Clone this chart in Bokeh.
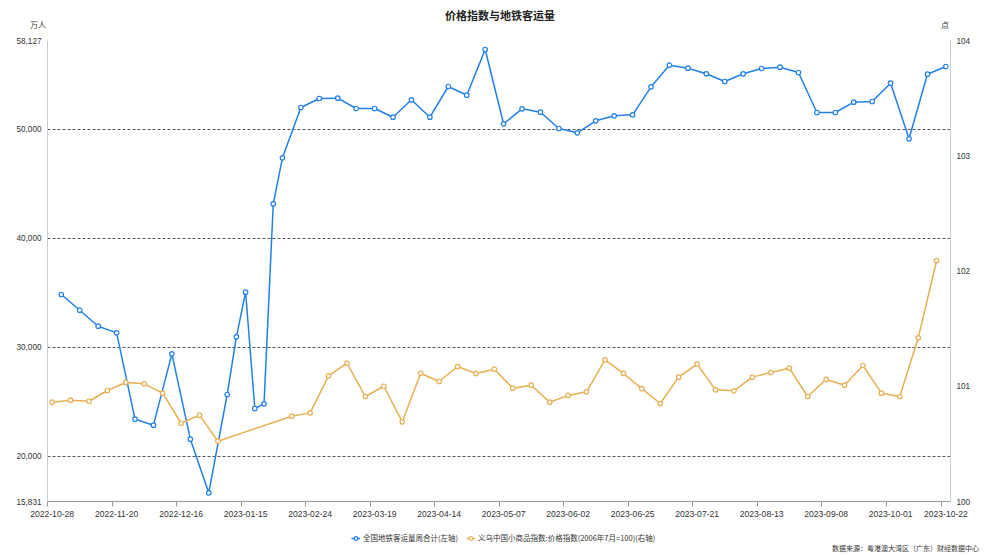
from bokeh.plotting import figure
from bokeh.layouts import column
from bokeh.models import (Range1d, LinearAxis, FixedTicker, Legend, Div,
                          LegendItem, NumeralTickFormatter)
from bokeh.embed import file_html
from bokeh.resources import INLINE

# ---------------- data ----------------
title_text = "价格指数与地铁客运量"
left_unit = "万人"
right_unit = "点"
source_text = "数据来源：粤港澳大湾区（广东）财经数据中心"
blue_name = "全国地铁客运量周合计(左轴)"
orange_name = "义乌中国小商品指数:价格指数(2006年7月=100)(右轴)"

blue_dates = [
    "2022-10-30", "2022-11-06", "2022-11-13", "2022-11-20", "2022-11-27",
    "2022-12-04", "2022-12-11", "2022-12-18", "2022-12-25",
    "2023-01-01", "2023-01-08", "2023-01-15", "2023-01-22", "2023-01-29",
    "2023-02-05", "2023-02-12", "2023-02-19", "2023-02-26",
    "2023-03-05", "2023-03-12", "2023-03-19", "2023-03-26",
    "2023-04-02", "2023-04-09", "2023-04-16", "2023-04-23", "2023-04-30",
    "2023-05-07", "2023-05-14", "2023-05-21", "2023-05-28",
    "2023-06-04", "2023-06-11", "2023-06-18", "2023-06-25",
    "2023-07-02", "2023-07-09", "2023-07-16", "2023-07-23", "2023-07-30",
    "2023-08-06", "2023-08-13", "2023-08-20", "2023-08-27",
    "2023-09-03", "2023-09-10", "2023-09-17", "2023-09-24",
    "2023-10-01", "2023-10-08", "2023-10-15", "2023-10-22",
]
blue_values = [
    34822, 33382, 31914, 31305, 23384,
    22833, 29378, 21549, 16625,
    25647, 30937, 35036, 24362, 24789,
    43142, 47362, 51980, 52805,
    52835, 51888, 51888, 51090,
    52686, 51090, 53906, 53108, 57301,
    50484, 51860, 51549, 50053,
    49658, 50759, 51218, 51310,
    53879, 55861, 55586, 55072, 54365,
    55072, 55558, 55677, 55191,
    51521, 51521, 52466, 52530,
    54209, 49108, 55035, 55741,
]

orange_dates = [
    "2022-10-28", "2022-11-04", "2022-11-11", "2022-11-18", "2022-11-25",
    "2022-12-02", "2022-12-09", "2022-12-16", "2022-12-23", "2022-12-30",
    "2023-02-17", "2023-02-24", "2023-03-03", "2023-03-10", "2023-03-17",
    "2023-03-24", "2023-03-31", "2023-04-07", "2023-04-14", "2023-04-21",
    "2023-04-28", "2023-05-05", "2023-05-12", "2023-05-19", "2023-05-26",
    "2023-06-02", "2023-06-09", "2023-06-16", "2023-06-23", "2023-06-30",
    "2023-07-07", "2023-07-14", "2023-07-21", "2023-07-28", "2023-08-04",
    "2023-08-11", "2023-08-18", "2023-08-25", "2023-09-01", "2023-09-08",
    "2023-09-15", "2023-09-22", "2023-09-29", "2023-10-06", "2023-10-13",
    "2023-10-20",
]
orange_values = [
    100.862, 100.879, 100.870, 100.963, 101.033,
    101.021, 100.940, 100.679, 100.749, 100.523,
    100.740, 100.769, 101.090, 101.200, 100.911,
    101.000, 100.691, 101.113, 101.041, 101.171,
    101.111, 101.148, 100.983, 101.009, 100.862,
    100.920, 100.952, 101.229, 101.111, 100.980,
    100.850, 101.079, 101.192, 100.969, 100.960,
    101.079, 101.119, 101.157, 100.911, 101.059,
    101.009, 101.180, 100.940, 100.911, 101.420,
    102.091,
]

x_tick_labels = [
    "2022-10-28", "2022-11-20", "2022-12-16", "2023-01-15", "2023-02-24",
    "2023-03-19", "2023-04-14", "2023-05-07", "2023-06-02", "2023-06-25",
    "2023-07-21", "2023-08-13", "2023-09-08", "2023-10-01", "2023-10-22",
]
left_ticks = [15831, 20000, 30000, 40000, 50000, 58127]
left_grid = [20000, 30000, 40000, 50000, 58127]
right_ticks = [100, 101, 102, 103, 104]

# ---------------- style ----------------
BLUE = "#2180E8"
ORANGE = "#E8AF52"
CJK = "'Noto Sans CJK SC'"
NUM = "Liberation Sans"
TXT = "#333333"
W = 1000
FL, FR = 47, 50   # frame borders left / right

# ---------------- top strip: title and units ----------------
top_html = (
    '<div style="position:relative;width:1000px;height:32px;overflow:visible;">'
    f'<div style="position:absolute;left:0px;top:7px;width:1000px;text-align:center;'
    f'font-family:{CJK};font-size:11px;font-weight:bold;line-height:16px;'
    f'color:#222222;white-space:nowrap;">{title_text}</div>'
    f'<div style="position:absolute;left:30px;top:19px;font-family:{CJK};'
    f'font-size:8px;line-height:12px;color:{TXT};white-space:nowrap;">{left_unit}</div>'
    f'<div style="position:absolute;left:941px;top:19px;font-family:{CJK};'
    f'font-size:8px;line-height:12px;color:{TXT};white-space:nowrap;">{right_unit}</div>'
    '</div>'
)
top = Div(text=top_html, width=W, height=32, styles={"margin": "0", "padding": "0"})

# ---------------- main chart ----------------
categories = sorted(set(blue_dates) | set(orange_dates))
pos = {d: i for i, d in enumerate(categories)}
bx = [pos[d] for d in blue_dates]
ox = [pos[d] for d in orange_dates]

p = figure(width=W, height=493, output_backend="svg", toolbar_location=None,
           title=None,
           x_range=Range1d(-0.5, len(categories) - 0.5),
           y_range=Range1d(left_ticks[0], left_ticks[-1]),
           min_border_left=FL, min_border_right=FR, min_border_top=8,
           min_border_bottom=24)
p.outline_line_color = None
p.background_fill_color = "white"
p.border_fill_color = "white"
p.extra_y_ranges = {"right": Range1d(right_ticks[0], right_ticks[-1])}

tick_idx = [pos[d] for d in x_tick_labels]
xax = p.xaxis[0]
xax.ticker = FixedTicker(ticks=tick_idx, minor_ticks=[i - 0.5 for i in tick_idx])
xax.major_label_overrides = {i: d for i, d in zip(tick_idx, x_tick_labels)}
xax.major_tick_out = 0
xax.major_tick_in = 0
xax.minor_tick_out = 5
xax.minor_tick_in = 0
xax.minor_tick_line_color = "#999999"
xax.axis_line_color = "#999999"
xax.major_label_text_font = NUM
xax.major_label_text_font_size = "8.6px"
xax.major_label_text_color = TXT
xax.major_label_standoff = 4

yax = p.yaxis[0]
yax.ticker = FixedTicker(ticks=left_ticks)
yax.formatter = NumeralTickFormatter(format="0,0")
yax.major_tick_out = 0
yax.major_tick_in = 0
yax.minor_tick_out = 0
yax.minor_tick_in = 0
yax.axis_line_color = "#C9CDD8"
yax.major_label_text_font = NUM
yax.major_label_text_font_size = "8.2px"
yax.major_label_text_color = TXT
yax.major_label_standoff = 6

rax = LinearAxis(y_range_name="right", ticker=FixedTicker(ticks=right_ticks))
rax.major_tick_out = 0
rax.major_tick_in = 0
rax.minor_tick_out = 0
rax.minor_tick_in = 0
rax.axis_line_color = "#C9CDD8"
rax.major_label_text_font = NUM
rax.major_label_text_font_size = "8.2px"
rax.major_label_text_color = TXT
rax.major_label_standoff = 6
p.add_layout(rax, "right")

p.xgrid.visible = False
p.ygrid.ticker = FixedTicker(ticks=left_grid)
p.ygrid.grid_line_color = "#555555"
p.ygrid.grid_line_dash = "3 2"
p.ygrid.grid_line_width = 1

p.line(bx, blue_values, line_color=BLUE, line_width=1.5)
p.scatter(bx, blue_values, marker="circle", size=4.5, fill_color="white",
          line_color=BLUE, line_width=1.2)
p.line(ox, orange_values, line_color=ORANGE, line_width=1.5, y_range_name="right")
p.scatter(ox, orange_values, marker="circle", size=4.5, fill_color="white",
          line_color=ORANGE, line_width=1.2, y_range_name="right")

# ---------------- legend strip ----------------
bot = figure(width=W, height=18, output_backend="svg", toolbar_location=None,
             title=None, x_axis_location=None, y_axis_location=None,
             x_range=Range1d(-2000, -1000), y_range=Range1d(-2000, -1000),
             min_border_left=FL, min_border_right=FR, min_border_top=0,
             min_border_bottom=0)
bot.outline_line_color = None
bot.xgrid.visible = False
bot.ygrid.visible = False
lb = bot.line(bx, blue_values, line_color=BLUE, line_width=1.5)
sb = bot.scatter(bx, blue_values, marker="circle", size=4, fill_color="white",
                 line_color=BLUE, line_width=1.2)
lo = bot.line(ox, orange_values, line_color=ORANGE, line_width=1.5)
so = bot.scatter(ox, orange_values, marker="circle", size=4, fill_color="white",
                 line_color=ORANGE, line_width=1.2)
legend = Legend(items=[LegendItem(label=blue_name, renderers=[lb, sb]),
                       LegendItem(label=orange_name, renderers=[lo, so])],
                orientation="horizontal", location=(304, 0),
                padding=0, margin=0, spacing=8, label_standoff=3,
                glyph_width=9, glyph_height=10,
                label_text_font="Noto Sans CJK SC", label_text_font_size="7.5px",
                label_text_color=TXT, label_height=10,
                border_line_color=None, background_fill_alpha=0)
bot.add_layout(legend, "center")

# ---------------- source strip ----------------
src_html = (
    '<div style="position:relative;width:1000px;height:12px;overflow:visible;">'
    f'<div style="position:absolute;right:21px;top:0px;font-family:{CJK};'
    f'font-size:7px;line-height:10px;color:{TXT};white-space:nowrap;">{source_text}</div>'
    '</div>'
)
src = Div(text=src_html, width=W, height=12, styles={"margin": "0", "padding": "0"})

layout = column(top, p, bot, src, spacing=0)
open("out.html", "w").write(file_html(layout, INLINE))
